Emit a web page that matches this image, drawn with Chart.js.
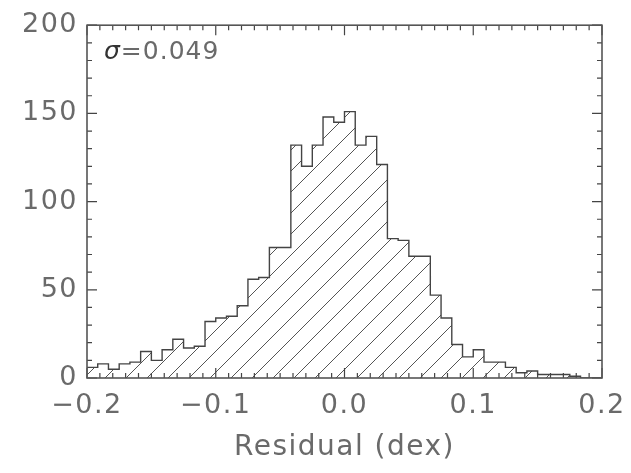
<!DOCTYPE html>
<html>
<head>
<meta charset="utf-8">
<script src="https://cdn.jsdelivr.net/npm/chart.js@4/dist/chart.umd.min.js"></script>
<style>
  html, body { margin: 0; padding: 0; background: #fff; }
  #wrap { width: 631px; height: 473px; }
</style>
</head>
<body>
<div id="wrap"><canvas id="hist" width="631" height="473"></canvas></div>
<script>
// histogram of residuals, 48 bins from -0.2 to 0.2
const binStart = -0.2;
const binWidth = 0.4 / 48;
const counts = [
  6, 8, 5, 8, 9, 15, 10, 16, 22, 17, 18, 32,
  34, 35, 41, 56, 57, 74, 74, 132, 120, 132, 148, 145,
  151, 132, 137, 121, 79, 78, 69, 69, 47, 34, 19, 12,
  16, 9, 9, 6, 3, 4, 2, 2, 2, 1, 0, 0
];
const xTicks = [-0.2, -0.1, 0.0, 0.1, 0.2];
const yTicks = [0, 50, 100, 150, 200];
const sigmaLabel = '0.049';

// left edges + closing edge, stepped line gives the histogram outline
const points = counts.map((c, i) => ({ x: binStart + i * binWidth, y: c }));
points.push({ x: binStart + counts.length * binWidth, y: counts[counts.length - 1] });

const ink = '#444';
const txt = '#6a6a6a';
const font = 'DejaVu Sans';

function hatch() {
  const s = 21;
  const c = document.createElement('canvas');
  c.width = s; c.height = s;
  const g = c.getContext('2d');
  g.strokeStyle = '#555';
  g.lineWidth = 1;
  g.beginPath();
  g.moveTo(-1, s + 1); g.lineTo(s + 1, -1);
  g.moveTo(-1, 1); g.lineTo(1, -1);
  g.moveTo(s - 1, s + 1); g.lineTo(s + 1, s - 1);
  g.stroke();
  return g.createPattern(c, 'repeat');
}

// the IDL-style labels are wide; canvas resets on resize, so set spacing each pass
const spacing = {
  id: 'spacing',
  beforeLayout(chart) { chart.ctx.letterSpacing = '1.5px'; },
  beforeDraw(chart) { chart.ctx.letterSpacing = '1.5px'; },
};

// inward ticks on all four sides, plus the frame
const frameTicks = {
  id: 'frameTicks',
  afterDatasetsDraw(chart) {
    const { ctx, chartArea: a, scales } = chart;
    const x = scales.x, y = scales.y;
    ctx.save();
    ctx.strokeStyle = ink;
    ctx.lineWidth = 1.2;
    ctx.beginPath();
    for (let k = -20; k <= 20; k++) {
      const px = x.getPixelForValue(k / 100);
      const len = k % 10 === 0 ? 10 : 5;
      ctx.moveTo(px, a.bottom); ctx.lineTo(px, a.bottom - len);
      ctx.moveTo(px, a.top); ctx.lineTo(px, a.top + len);
    }
    for (let v = 0; v <= 200; v += 10) {
      const py = y.getPixelForValue(v);
      const len = v % 50 === 0 ? 10 : 5;
      ctx.moveTo(a.left, py); ctx.lineTo(a.left + len, py);
      ctx.moveTo(a.right, py); ctx.lineTo(a.right - len, py);
    }
    ctx.stroke();
    ctx.lineWidth = 1.6;
    ctx.strokeStyle = '#555';
    ctx.strokeRect(a.left, a.top, a.right - a.left, a.bottom - a.top);

    // sigma note
    ctx.textBaseline = 'alphabetic';
    ctx.letterSpacing = '0px';
    ctx.fillStyle = '#333';
    ctx.font = 'italic 25px ' + font;
    const tx = a.left + 17, ty = a.top + 34;
    ctx.fillText('σ', tx, ty);
    const w = ctx.measureText('σ').width;
    ctx.fillStyle = txt;
    ctx.letterSpacing = '1px';
    ctx.font = '25px ' + font;
    ctx.fillText('=' + sigmaLabel, tx + w + 1, ty);
    ctx.restore();
  }
};

new Chart(document.getElementById('hist').getContext('2d'), {
  type: 'line',
  data: {
    datasets: [{
      data: points,
      stepped: 'before',
      borderColor: ink,
      borderWidth: 1.4,
      pointRadius: 0,
      fill: 'origin',
      backgroundColor: hatch(),
    }],
  },
  options: {
    responsive: false,
    animation: false,
    layout: { padding: { top: 14, right: 29, left: 0, bottom: 0 } },
    plugins: { legend: { display: false }, tooltip: { enabled: false } },
    scales: {
      x: {
        type: 'linear',
        min: -0.2,
        max: 0.2,
        grid: { display: false, drawTicks: false },
        border: { display: false },
        afterBuildTicks: (s) => { s.ticks = xTicks.map((v) => ({ value: v })); },
        afterFit: (s) => { s.height = 95; s.paddingLeft = 0; s.paddingRight = 0; },
        ticks: {
          padding: 12,
          color: txt,
          font: { family: font, size: 27 },
          maxRotation: 0,
          callback: (v) => (Math.abs(v) < 1e-9 ? 0 : v).toFixed(1).replace('-', '\u2212'),
        },
        title: {
          display: true,
          text: 'Residual (dex)',
          color: txt,
          font: { family: font, size: 28 },
          padding: { top: 0, bottom: 8 },
        },
      },
      y: {
        min: 0,
        max: 200,
        grid: { display: false, drawTicks: false },
        border: { display: false },
        afterBuildTicks: (s) => { s.ticks = yTicks.map((v) => ({ value: v })); },
        afterFit: (s) => { s.width = 87; },
        ticks: {
          padding: 9,
          color: txt,
          font: { family: font, size: 27 },
        },
      },
    },
  },
  plugins: [spacing, frameTicks],
});
</script>
</body>
</html>
